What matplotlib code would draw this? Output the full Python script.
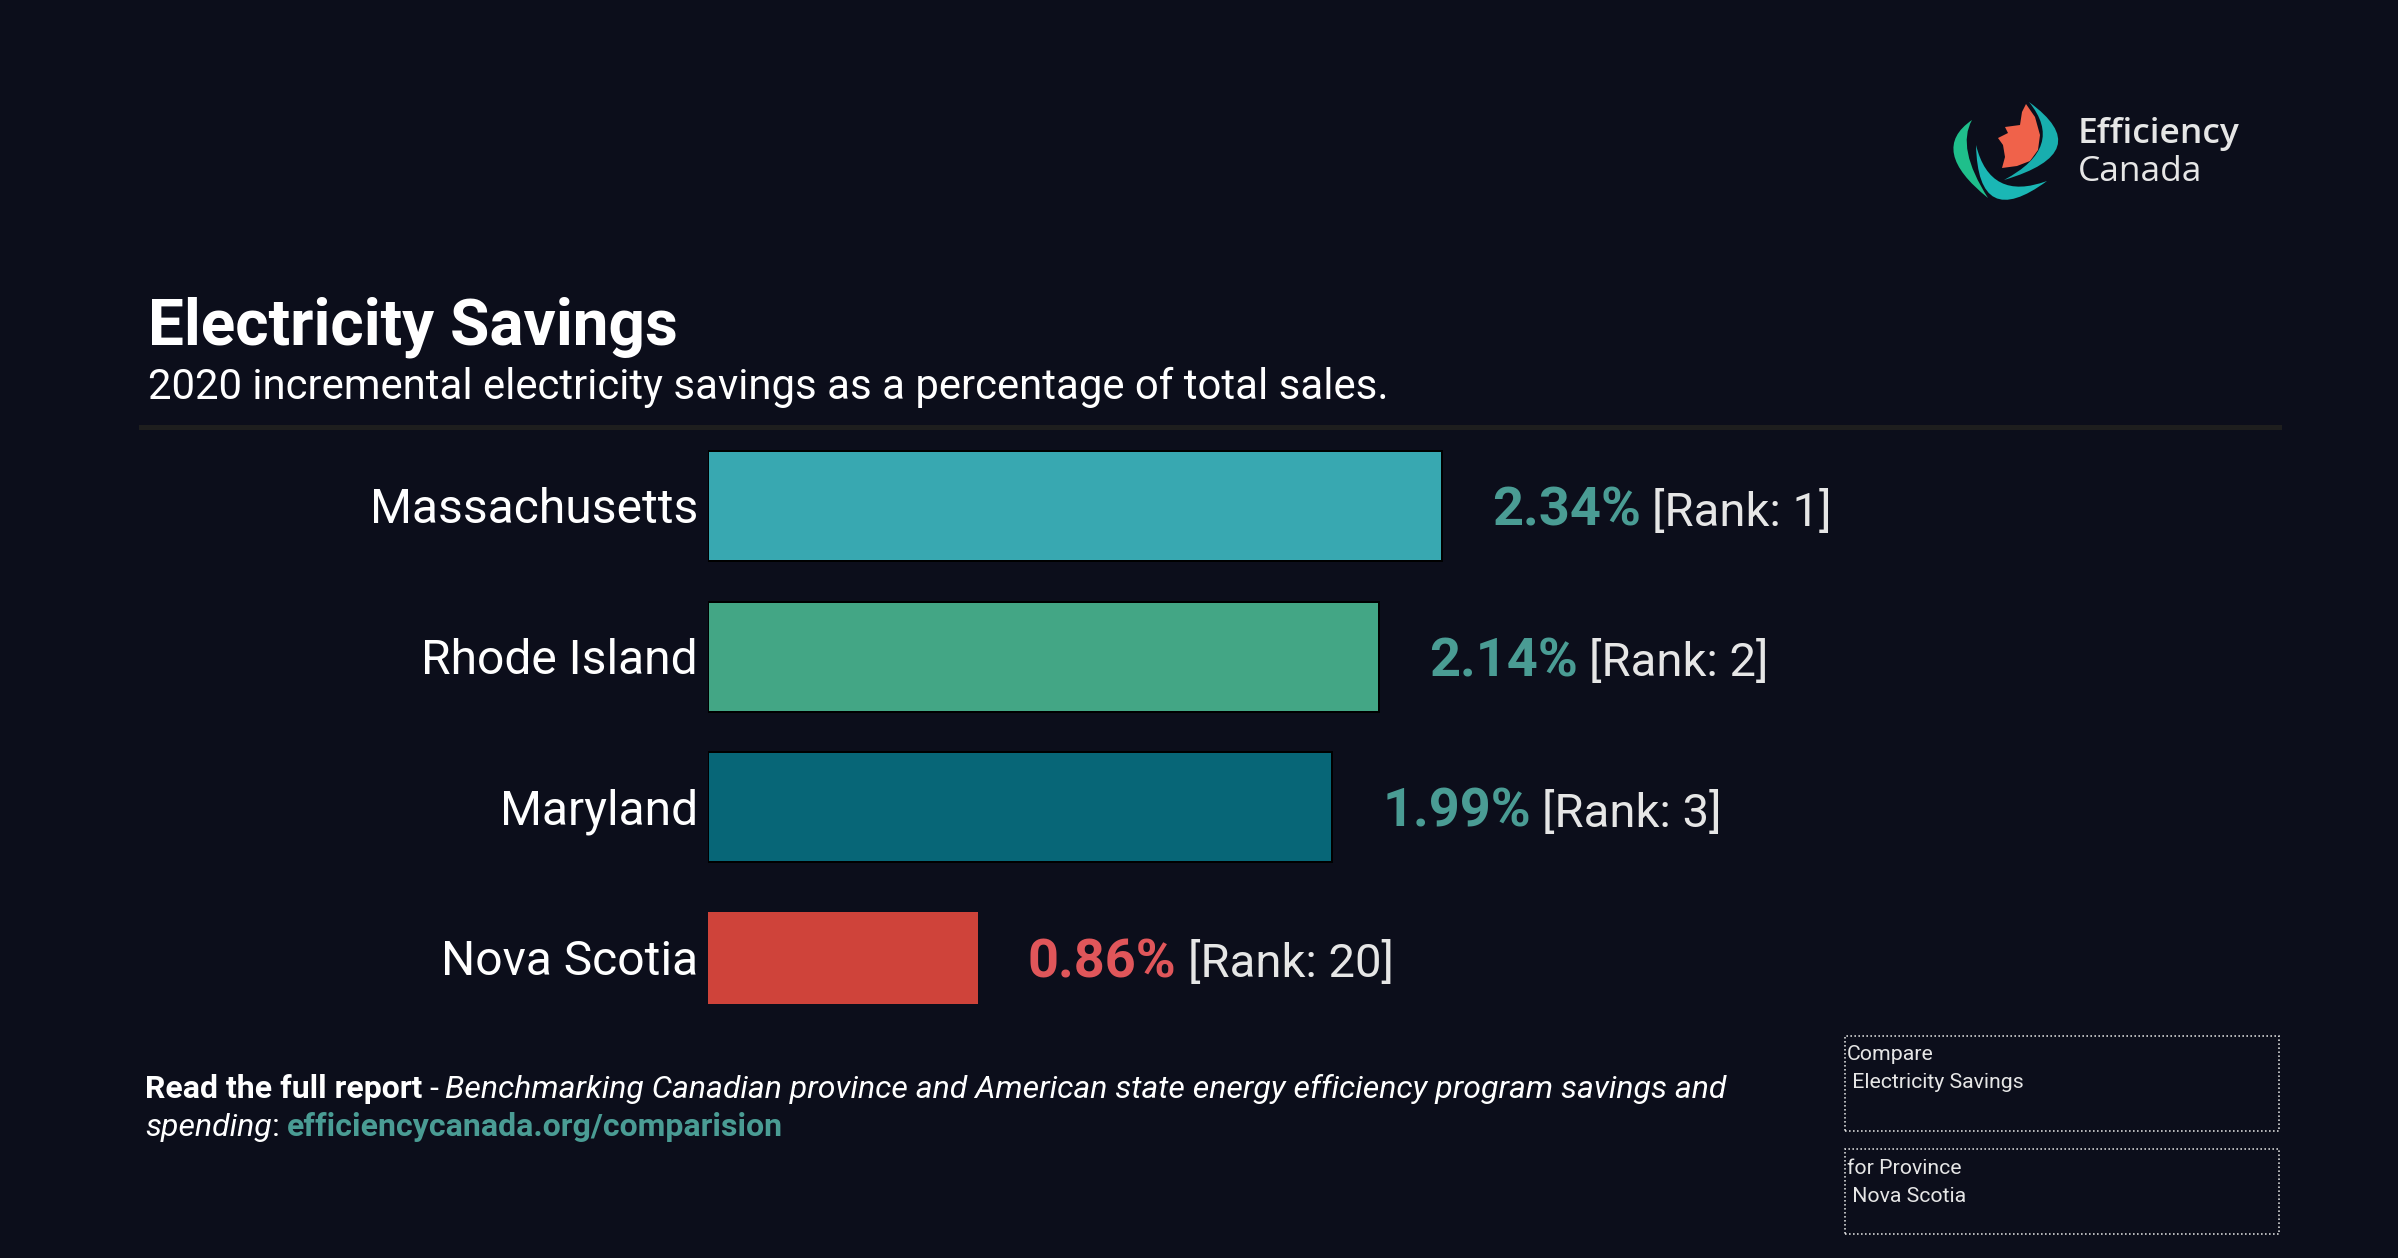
import matplotlib
matplotlib.use("Agg")
import matplotlib.pyplot as plt
from matplotlib.patches import Rectangle, PathPatch, Polygon
from matplotlib.path import Path
from matplotlib.lines import Line2D

# ---------------- data ----------------
categories = ["Massachusetts", "Rhode Island", "Maryland", "Nova Scotia"]
values = [2.34, 2.14, 1.99, 0.86]
ranks = [1, 2, 3, 20]
bar_colors = ["#38a8b1", "#43a685", "#076677", "#cf433a"]
highlight = "Nova Scotia"

title = "Electricity Savings"
subtitle = "2020 incremental electricity savings as a percentage of total sales."
footer_bold = "Read the full report"
footer_italic_1 = "Benchmarking Canadian province and American state energy efficiency program savings and"
footer_italic_2 = "spending"
footer_link = "efficiencycanada.org/comparision"
box1_lines = ["Compare", " Electricity Savings"]
box2_lines = ["for Province", " Nova Scotia"]
logo_lines = ["Efficiency", "Canada"]

# ---------------- style ----------------
W, H, DPI = 2398, 1258, 100
BG = "#0c0e1b"
WHITE = "#ffffff"
LIGHT = "#e6e6e6"
TEAL_TXT = "#4a9c94"
RED_TXT = "#e0565a"
FONT = "Roboto"

plt.rcParams["font.family"] = [FONT, "DejaVu Sans"]

fig = plt.figure(figsize=(W / DPI, H / DPI), dpi=DPI, facecolor=BG)
PT = 72.0 / DPI  # points per pixel


def fx(px):
    return px / W


def fy(py):
    return 1 - py / H


# ---------------- axes / bars ----------------
ax = fig.add_axes([fx(708), fy(1033), (1963 - 708) / W, (1033 - 431) / H])
ax.set_facecolor("none")
ax.set_xlim(0, 4)
ax.set_ylim(len(categories) - 0.5, -0.5)
for s in ax.spines.values():
    s.set_visible(False)
ax.set_xticks([])
ax.set_yticks([])

ypos = list(range(len(categories)))
for i, (cat, v, r, c) in enumerate(zip(categories, values, ranks, bar_colors)):
    is_hl = cat == highlight
    if is_hl:
        ax.barh(ypos[i], v, height=0.61, color=c, edgecolor="none", linewidth=0)
    else:
        ax.barh(ypos[i], v, height=0.73, color=c, edgecolor="black", linewidth=2 * PT)

    # category label
    ax.annotate(cat, xy=(0, ypos[i]), xytext=(-10 * PT, -17 * PT),
                textcoords="offset points", ha="right", va="baseline",
                fontsize=34.6, color=WHITE, family=FONT)

    # value label
    t1 = ax.annotate(f"{v:.2f}%", xy=(v, ypos[i]), xytext=(50 * PT, -19.5 * PT),
                     textcoords="offset points", ha="left", va="baseline",
                     fontsize=39, fontweight="bold",
                     color=RED_TXT if is_hl else TEAL_TXT, family=FONT)
    ax.annotate(f"[Rank: {r}]", xy=(1, ypos[i]), xycoords=(t1, "data"),
                xytext=(11 * PT, -19.5 * PT), textcoords="offset points",
                ha="left", va="baseline", fontsize=34, color=LIGHT, family=FONT)

# ---------------- titles ----------------
fig.text(fx(148), fy(345), title, fontsize=46, fontweight="bold", color=WHITE,
         ha="left", va="baseline", family=FONT)
fig.text(fx(148), fy(399), subtitle, fontsize=30.2, color=WHITE,
         ha="left", va="baseline", family=FONT)
fig.add_artist(Line2D([fx(141), fx(2279)], [fy(426.5), fy(426.5)],
                      transform=fig.transFigure, color="#1e1e1e", linewidth=5 * PT))

# ---------------- footer ----------------
renderer = fig.canvas.get_renderer()


def place_runs(items, x, y):
    for txt, kw, gap in items:
        if txt:
            t = fig.text(fx(x), fy(y), txt, ha="left", va="baseline", family=FONT, **kw)
            x += t.get_window_extent(renderer).width
        x += gap


FS = 23
place_runs([
    (footer_bold, dict(fontsize=FS, fontweight="bold", color=WHITE), 7),
    ("-", dict(fontsize=FS, color=WHITE), 7),
    (footer_italic_1, dict(fontsize=FS, fontstyle="italic", color=WHITE), 0),
], 145, 1098)
place_runs([
    (footer_italic_2, dict(fontsize=FS, fontstyle="italic", color=WHITE), 0),
    (":", dict(fontsize=FS, color=WHITE), 7),
    (footer_link, dict(fontsize=FS, fontweight="bold", color=TEAL_TXT), 0),
], 145, 1136)

# ---------------- dotted boxes ----------------
for (top, bot, lines, bl) in [(1036, 1131, box1_lines, (1060, 1088)),
                              (1149, 1234, box2_lines, (1174, 1202))]:
    fig.add_artist(Rectangle((fx(1845), fy(bot)), (2279 - 1845) / W, (bot - top) / H,
                             transform=fig.transFigure, fill=False, edgecolor="#dddddd",
                             linestyle=(0, (1, 1.5)), linewidth=1.6 * PT))
    for line, b in zip(lines, bl):
        fig.text(fx(1847), fy(b), line, fontsize=15.3, color=LIGHT, ha="left",
                 va="baseline", family=FONT)

# ---------------- logo ----------------
fig.text(fx(2078), fy(143), logo_lines[0], fontsize=25.5, fontweight="semibold",
         color=LIGHT, ha="left", va="baseline", family=["Open Sans", "DejaVu Sans"])
fig.text(fx(2078), fy(181), logo_lines[1], fontsize=25.5, color=LIGHT,
         ha="left", va="baseline", family=["Open Sans", "DejaVu Sans"])


def crescent(A, c_out, B, c_in, color):
    pts = [A, c_out, B, c_in, A]
    verts = [(fx(x), fy(y)) for x, y in pts]
    codes = [Path.MOVETO, Path.CURVE3, Path.CURVE3, Path.CURVE3, Path.CURVE3]
    fig.add_artist(PathPatch(Path(verts, codes), transform=fig.transFigure,
                             facecolor=color, edgecolor="none"))


crescent((1972, 120), (1928, 150), (1988, 198), (1956, 148), "#1fbf8b")
crescent((1976, 145), (1978, 232), (2047, 181), (1990, 202), "#1ab7b5")
crescent((2029, 102), (2098, 152), (2004, 180), (2066, 147), "#18aeae")
leaf = [(2026, 104), (2022, 112), (2020, 125), (2005, 127), (2008, 133), (1998, 138),
        (2003, 145), (2005, 157), (2002, 168), (2017, 166), (2030, 161), (2038, 150),
        (2040, 135), (2035, 117)]
fig.add_artist(Polygon([(fx(x), fy(y)) for x, y in leaf], closed=True,
                       transform=fig.transFigure, facecolor="#f0624a", edgecolor="none"))

fig.savefig("out.png", dpi=DPI, facecolor=BG)
